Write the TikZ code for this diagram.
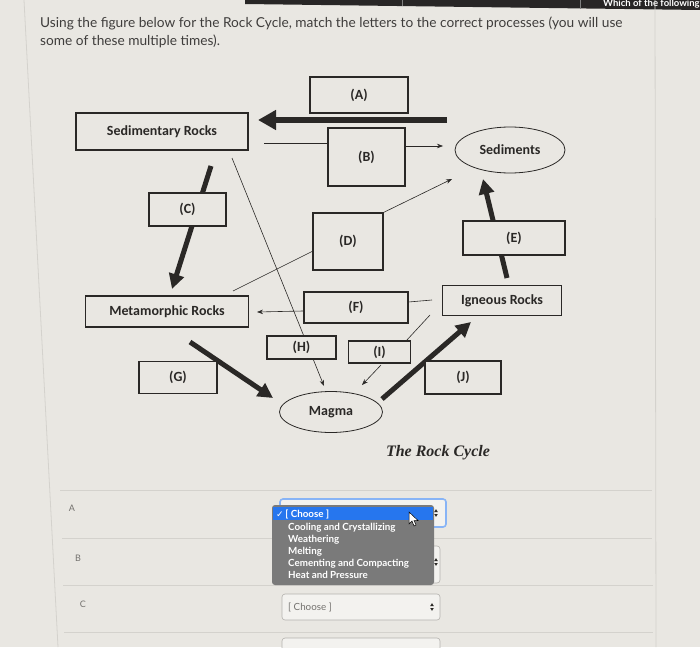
\documentclass[tikz,border=0pt]{standalone}
\usepackage{fontspec}
\setmainfont{Lato}
\newfontfamily\carl{Carlito}
\newfontfamily\tnr{Liberation Serif}
\newfontfamily\djv{DejaVu Sans}
\usetikzlibrary{arrows.meta,shapes.geometric}
\pgfdeclarelayer{paper}
\pgfdeclarelayer{links}
\pgfsetlayers{paper,links,main}
\definecolor{paperc}{RGB}{233,231,226}
\definecolor{ink}{RGB}{42,40,38}
\definecolor{menug}{RGB}{122,122,122}
\definecolor{selblue}{RGB}{38,118,238}
\definecolor{rulec}{RGB}{212,210,205}
\definecolor{formtxt}{RGB}{115,113,110}
\definecolor{topbar}{RGB}{40,38,38}
\newcommand\dlabel{\carl\bfseries\fontsize{14}{16}\selectfont}
\begin{document}
\begin{tikzpicture}[x=1pt,y=-1pt,
  bx/.style 2 args={shape=rectangle, draw=ink, line width=1.1pt, fill=paperc, minimum width=#1, minimum height=#2, inner sep=0pt, font=\dlabel, text=ink},
  el/.style 2 args={shape=ellipse, draw=ink, line width=0.8pt, fill=paperc, minimum width=#1, minimum height=#2, inner sep=0pt, font=\dlabel, text=ink},
  lnk/.style={draw=ink, line width=0.6pt},
  lnkarr/.style={lnk, -{Stealth[length=6pt,width=4.5pt]}},
  fatA/.style={draw=ink, line width=6.5pt, -{Triangle[length=18pt,width=19pt]}},
  fat/.style={draw=ink, line width=5pt, -{Triangle[length=15pt,width=15pt]}},
  rulel/.style={draw=rulec, line width=0.8pt},
  sel/.style={draw=rulec!85!black, line width=0.6pt, fill=white!45!paperc, rounded corners=3pt},
  item/.style={anchor=base west, inner sep=0pt, text=white, font=\bfseries\fontsize{9.8}{11}\selectfont},
  formlab/.style={text=formtxt, font=\fontsize{9}{10}\selectfont, inner sep=0pt},
  titletxt/.style={anchor=base west, inner sep=0pt, text=ink!90, font=\fontsize{13.7}{16}\selectfont}
]
\begin{pgfonlayer}{paper}
\fill[paperc] (0,0) rectangle (700,647);
\end{pgfonlayer}
\useasboundingbox (0,0) rectangle (700,647);

% page frame
\fill[topbar] (245,0) -- (700,0) -- (700,10) -- (245,4) -- cycle;
\draw[gray, line width=0.5pt] (402,0) -- (402,6) (580,0) -- (580,9);
\node[anchor=west, inner sep=0pt, text=white, font=\bfseries\fontsize{9.5}{10}\selectfont] (tab) at (603,4) {Which of the following};
\draw[rulel] (24,0) -- (58,647);
\draw[rulel] (655,0) -- (656,647);

% title
\node[titletxt] (t1) at (40,28) {Using the figure below for the Rock Cycle, match the letters to the correct processes (you will use};
\node[titletxt] (t2) at (40,46) {some of these multiple times).};

% diagram nodes
\node[bx={98pt}{36pt}] (A) at (359,95) {(A)};
\node[bx={172pt}{37pt}] (sed) at (162,131.5) {Sedimentary Rocks};
\node[bx={77pt}{58pt}] (B) at (366.5,157) {(B)};
\node[el={110pt}{46pt}] (sedi) at (510,150) {Sediments};
\node[bx={77pt}{33pt}] (C) at (187.5,209.5) {(C)};
\node[bx={70pt}{57pt}] (D) at (348,241.5) {(D)};
\node[bx={102pt}{34pt}] (E) at (514,238) {(E)};
\node[bx={119pt}{30pt}] (ign) at (502,300.5) {Igneous Rocks};
\node[bx={163pt}{31pt}] (meta) at (167,311.5) {Metamorphic Rocks};
\node[bx={104pt}{31pt}] (F) at (356,307.5) {(F)};
\node[bx={69pt}{23pt}] (H) at (301.5,347.5) {(H)};
\node[bx={62pt}{22pt}] (I) at (379.5,352) {(I)};
\node[bx={78pt}{32pt}] (G) at (178,377.5) {(G)};
\node[el={103pt}{41pt}] (magma) at (331,412) {Magma};
\node[bx={76pt}{33pt}] (J) at (463,377.5) {(J)};
\node[inner sep=0pt, text=ink, font=\tnr\bfseries\itshape\fontsize{16}{18}\selectfont] (cap) at (438,453) {The Rock Cycle};

% free ends of connectors
\coordinate (aS) at (447,120);
\coordinate (aE) at (258,120);
\coordinate (bL) at (264,143);
\coordinate (yb) at (0,146);
\coordinate (bT) at (443,146);
\coordinate (s1) at (232,158);
\coordinate (m1) at (324,386);
\coordinate (c1) at (211,166);
\coordinate (c2) at (172,289);
\coordinate (dT) at (452,179);
\coordinate (d1) at (313,251);
\coordinate (mt) at (233,291);
\coordinate (e1) at (507,278);
\coordinate (e2) at (483,179);
\coordinate (g1) at (432,300);
\coordinate (yf) at (0,302);
\coordinate (f1) at (303,311);
\coordinate (f2) at (257,312);
\coordinate (i0) at (430,315);
\coordinate (i1) at (406,341);
\coordinate (i2) at (381,365);
\coordinate (i3) at (362,385);
\coordinate (g2) at (190,342);
\coordinate (g3) at (273,398);
\coordinate (j1) at (382,399);
\coordinate (j2) at (471,322);

\begin{pgfonlayer}{links}
\draw[fatA] (aS) -- (aE);
\draw[lnk] (bL) -- (bL -| B.west);
\draw[lnkarr] (B.east |- yb) -- (bT);
\draw[lnkarr] (s1) -- (m1);
\draw[fat] (c1) -- (c2);
\draw[lnkarr] (D.north east) -- (dT);
\draw[lnk] (d1) -- (mt);
\draw[fat] (e1) -- (e2);
\draw[lnk] (g1) -- (F.east |- yf);
\draw[lnkarr] (f1) -- (f2);
\draw[lnk] (i0) -- (i1);
\draw[lnkarr] (i2) -- (i3);
\draw[fat] (g2) -- (g3);
\draw[fat] (j1) -- (j2);
\end{pgfonlayer}

% form
\draw[rulel] (60,490) -- (652,490);
\draw[rulel] (62,538) -- (652,538);
\draw[rulel] (63,585) -- (653,585);
\draw[rulel] (64,632) -- (653,632);
\node[formlab] (la) at (72,508) {A};
\node[formlab] (lb) at (78,558) {B};
\node[formlab] (lc) at (83,604) {C};

\draw[draw=selblue!55!white, line width=1.6pt, fill=white!45!paperc, rounded corners=3pt] (280,499) rectangle (446,527);
\draw[sel] (280,546) rectangle (440,583);
\draw[sel] (282,594) rectangle (440,620);
\draw[sel] (282,638) rectangle (440,652);
\node[anchor=base west, inner sep=0pt, text=formtxt, font=\fontsize{9.8}{11}\selectfont] (cc) at (288,610) {[ Choose ]};
\foreach \x/\y in {436/513, 436/562, 432/607}{
  \fill[ink] (\x-1.8,\y-1) -- (\x+1.8,\y-1) -- (\x,\y-3.8) -- cycle;
  \fill[ink] (\x-1.8,\y+1) -- (\x+1.8,\y+1) -- (\x,\y+3.8) -- cycle;
}
% open menu
\fill[menug, rounded corners=3pt] (272,505) rectangle (434,585);
\fill[selblue] (273,506.5) rectangle (433,520);
\node[item] (o0) at (276,517) {{\djv\fontsize{9}{10}\selectfont ✓}\,[ Choose ]};
\node[item] (o1) at (288,530) {Cooling and Crystallizing};
\node[item] (o2) at (288,542.5) {Weathering};
\node[item] (o3) at (288,554.5) {Melting};
\node[item] (o4) at (288,566.5) {Cementing and Compacting};
\node[item] (o5) at (288,578.5) {Heat and Pressure};
% mouse pointer
\draw[fill=white, draw=black, line width=0.5pt] (409,512) -- (409,524) -- (412,521) -- (414,526) -- (416,525) -- (414,520.5) -- (418,520.5) -- cycle;
\end{tikzpicture}
\end{document}
